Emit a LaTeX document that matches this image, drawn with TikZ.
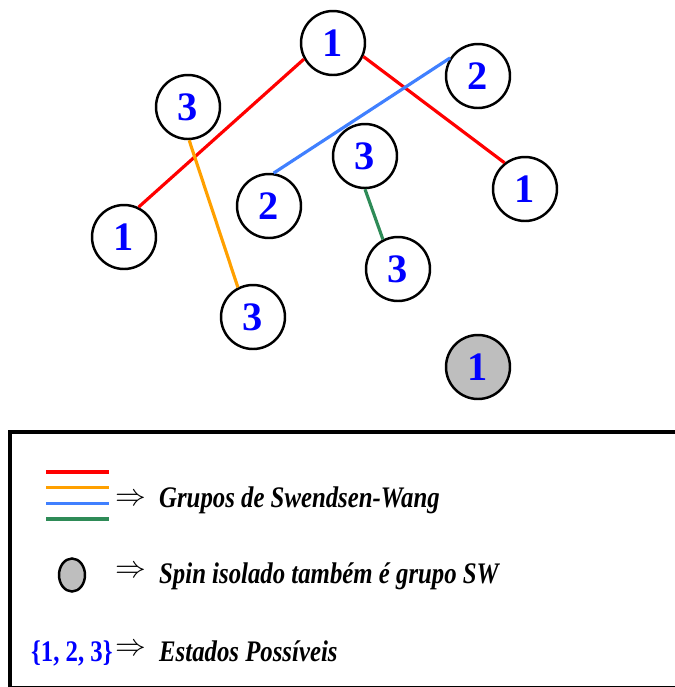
\documentclass[tikz,border=0pt]{standalone}
\usepackage{fontspec}
\setmainfont{Liberation Serif}
\newfontfamily\legfont[FakeStretch=0.83]{Liberation Serif}
\usetikzlibrary{shapes.geometric}

\definecolor{spinblue}{RGB}{0,0,255}
\definecolor{swred}{RGB}{255,0,0}
\definecolor{sworange}{RGB}{255,160,0}
\definecolor{swblue}{RGB}{64,128,255}
\definecolor{swgreen}{RGB}{46,139,87}
\definecolor{spingray}{RGB}{190,190,190}

\begin{document}
\begin{tikzpicture}[x=0.02cm, y=-0.02cm,
    spin/.style={circle, draw, line width=1.4pt, minimum size=1.28cm, inner sep=0pt,
        text=spinblue, font=\fontsize{23}{23}\selectfont\bfseries},
    bond/.style={line width=1.8pt},
    implies/.style={inner sep=0pt},
    legtext/.style={anchor=base west, font=\legfont\fontsize{17}{17}\selectfont\bfseries\itshape}]
    \useasboundingbox (0,0) rectangle (675,687);

    % Spins (Potts states)
    \node[spin] (top1) at (333,43) {1};
    \node[spin] (top2) at (478,76) {2};
    \node[spin] (left3) at (188,107) {3};
    \node[spin] (mid3) at (365,156) {3};
    \node[spin] (mid2) at (269,206) {2};
    \node[spin] (right1) at (525,189) {1};
    \node[spin] (left1) at (124,237) {1};
    \node[spin] (low3) at (398,269) {3};
    \node[spin] (bot3) at (253,317) {3};
    \node[spin, fill=spingray] (iso1) at (478,367) {1};

    % Swendsen-Wang bonds
    \draw[bond, swred] (left1.64) -- (top1.209);
    \draw[bond, swred] (top1.-24) -- (right1.128);
    \draw[bond, swblue] (mid2.82) -- (top2.147);
    \draw[bond, sworange] (left3.-88) -- (bot3.117);
    \draw[bond, swgreen] (mid3.-90) -- (low3.117);

    % Legend box
    \draw[line width=1.8pt] (10,432) rectangle (690,688);

    % Legend: groups
    \draw[line width=2.2pt, swred] (46,472) -- (109,472);
    \draw[line width=1.7pt, sworange] (46,487) -- (109,487);
    \draw[line width=1.7pt, swblue] (46,503) -- (109,503);
    \draw[line width=2.2pt, swgreen] (46,519) -- (109,519);
    \node[implies] (imp1) at (131,500) {\scalebox{1.75}{$\Rightarrow$}};
    \node[legtext] (txt1) at (153,507) {Grupos de Swendsen-Wang};

    % Legend: isolated spin
    \node[ellipse, draw, line width=1.4pt, fill=spingray, minimum width=0.52cm,
        minimum height=0.66cm, inner sep=0pt] (isoleg) at (72,575) {};
    \node[implies] (imp2) at (131,572) {\scalebox{1.75}{$\Rightarrow$}};
    \node[legtext] (txt2) at (153,583) {Spin isolado também é grupo SW};

    % Legend: states
    \node[anchor=base east, inner sep=0pt, text=spinblue,
        font=\legfont\fontsize{17}{17}\selectfont\bfseries] (states) at (113,661) {\{1, 2, 3\}};
    \node[implies] (imp3) at (131,650) {\scalebox{1.75}{$\Rightarrow$}};
    \node[legtext] (txt3) at (153,661) {Estados Possíveis};
\end{tikzpicture}
\end{document}
